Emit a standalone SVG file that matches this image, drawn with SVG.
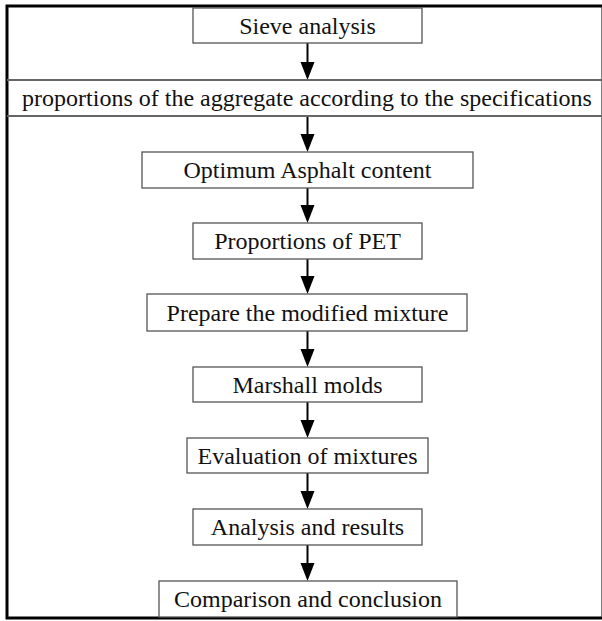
<svg xmlns="http://www.w3.org/2000/svg" width="602" height="621" viewBox="0 0 602 621">
<defs>
<style>
.box{fill:#fff;stroke:#555;stroke-width:1.3}
.band{stroke:#666;stroke-width:2}
.t{font-family:"Liberation Serif","Times New Roman",serif;font-size:24px;fill:#111;text-anchor:middle}
.c{stroke:#000;stroke-width:2;fill:none}
</style>
<marker id="ah" markerWidth="14" markerHeight="18" refX="7" refY="18" orient="auto-start-reverse" markerUnits="userSpaceOnUse" viewBox="0 0 14 18">
<path d="M0,0 L14,0 L7,18 Z" fill="#000" transform="rotate(0)"/>
</marker>
</defs>
<rect x="0" y="0" width="602" height="621" fill="#fff"/>
<rect x="7" y="6" width="596" height="612" fill="none" stroke="#000" stroke-width="3"/>
<g id="connectors">
<path class="c" d="M307.5,43 V62"/><path d="M300.5,62 H314.5 L307.5,80 Z"/>
<path class="c" d="M307.5,116 V134"/><path d="M300.5,134 H314.5 L307.5,152 Z"/>
<path class="c" d="M307.5,188 V205"/><path d="M300.5,205 H314.5 L307.5,223 Z"/>
<path class="c" d="M307.5,259 V276"/><path d="M300.5,276 H314.5 L307.5,294 Z"/>
<path class="c" d="M307.5,331 V349"/><path d="M300.5,349 H314.5 L307.5,367 Z"/>
<path class="c" d="M307.5,402 V420"/><path d="M300.5,420 H314.5 L307.5,438 Z"/>
<path class="c" d="M307.5,473 V491"/><path d="M300.5,491 H314.5 L307.5,509 Z"/>
<path class="c" d="M307.5,545 V563"/><path d="M300.5,563 H314.5 L307.5,581 Z"/>
</g>
<g id="n1"><rect class="box" x="193" y="8" width="229" height="35"/><text class="t" x="307.5" y="34">Sieve analysis</text></g>
<g id="n2"><line class="band" x1="7" y1="80" x2="602" y2="80"/><line class="band" x1="7" y1="116" x2="602" y2="116"/><text class="t" x="307" y="106">proportions of the aggregate according to the specifications</text></g>
<g id="n3"><rect class="box" x="142" y="152" width="331" height="36"/><text class="t" x="307.5" y="178">Optimum Asphalt content</text></g>
<g id="n4"><rect class="box" x="193" y="223" width="229" height="36"/><text class="t" x="307.5" y="249">Proportions of PET</text></g>
<g id="n5"><rect class="box" x="147" y="294" width="320" height="37"/><text class="t" x="307.5" y="321">Prepare the modified mixture</text></g>
<g id="n6"><rect class="box" x="193" y="367" width="229" height="35"/><text class="t" x="307.5" y="393">Marshall molds</text></g>
<g id="n7"><rect class="box" x="187" y="438" width="241" height="35"/><text class="t" x="307.5" y="464">Evaluation of mixtures</text></g>
<g id="n8"><rect class="box" x="193" y="509" width="229" height="36"/><text class="t" x="307.5" y="535">Analysis and results</text></g>
<g id="n9"><rect class="box" x="159" y="581" width="298" height="36"/><text class="t" x="308" y="607">Comparison and conclusion</text></g>
</svg>
